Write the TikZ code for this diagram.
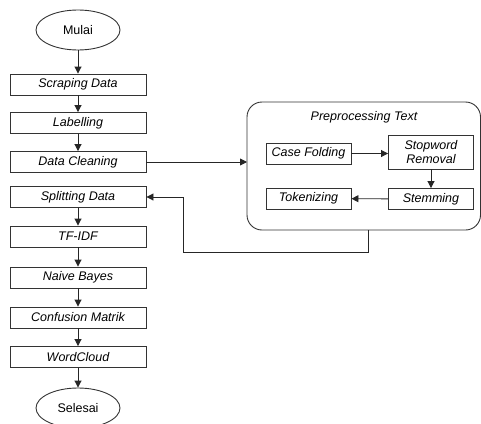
\documentclass[tikz,border=0pt]{standalone}
\usepackage{fontspec}
\setmainfont{Liberation Sans}
\usetikzlibrary{shapes.geometric,arrows.meta}
\begin{document}
\begin{tikzpicture}[x=1pt,y=-1pt,
  every node/.style={font=\fontsize{12.5}{14}\selectfont},
  procbox/.style={draw=black!80, line width=0.9pt, minimum width=136pt, minimum height=21pt, inner sep=0pt, font=\fontsize{12.5}{14}\selectfont\itshape},
  subbox/.style={draw=black!80, line width=0.9pt, minimum width=85pt, minimum height=21pt, inner sep=0pt, align=center, font=\fontsize{12.5}{14}\selectfont\itshape},
  term/.style={draw=black!80, line width=0.9pt, ellipse, minimum width=84pt, minimum height=40pt, inner sep=0pt},
  arr/.style={draw=black!85, line width=0.9pt, -{Triangle[length=7pt,width=7pt]}}]
\useasboundingbox (0,0) rectangle (481,423);
\node[term] (mulai) at (78,30) {Mulai};
\node[procbox] (scrap) at (78,84.5) {Scraping Data};
\node[procbox] (label) at (78,123) {Labelling};
\node[procbox] (clean) at (78,162) {Data Cleaning};
\node[procbox] (split) at (78,197) {Splitting Data};
\node[procbox] (tfidf) at (78,236.5) {TF-IDF};
\node[procbox] (nb) at (78,277.5) {Naive Bayes};
\node[procbox] (cm) at (78,317.5) {Confusion Matrik};
\node[procbox] (wc) at (78,357) {WordCloud};
\node[term] (selesai) at (78,408) {Selesai};
\draw[draw=black!80, line width=0.9pt, rounded corners=15pt] (247,102) rectangle (480.5,230);
\coordinate (pl) at (247,162);
\coordinate (pb) at (368,230);
\node[font=\fontsize{12.5}{14}\selectfont\itshape] (ptitle) at (364,117) {Preprocessing Text};
\node[subbox] (cf) at (308.5,153.5) {Case Folding};
\node[subbox, minimum height=34pt, font=\fontsize{12.5}{13.5}\selectfont\itshape] (sw) at (431,152) {Stopword\\Removal};
\node[subbox] (tok) at (308.5,198.5) {Tokenizing};
\node[subbox] (stem) at (431,199) {Stemming};
\draw[arr] (mulai) -- (scrap);
\draw[arr] (scrap) -- (label);
\draw[arr] (label) -- (clean);
\draw[arr] (split) -- (tfidf);
\draw[arr] (tfidf) -- (nb);
\draw[arr] (nb) -- (cm);
\draw[arr] (cm) -- (wc);
\draw[arr] (wc) -- (selesai);
\draw[arr] (clean) -- (pl);
\draw[arr] (pb) -- (368,252) -- (183,252) -- (183,197) -- (split.east);
\draw[arr] (cf) -- (sw.west |- cf);
\draw[arr] (sw) -- (stem);
\draw[arr] (stem) -- (tok);
\end{tikzpicture}
\end{document}
